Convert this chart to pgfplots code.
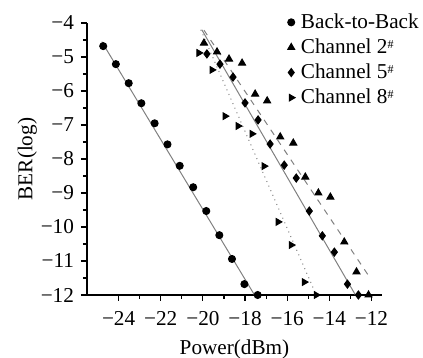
\documentclass[border=0pt]{standalone}
\usepackage{fontspec}
\setmainfont{Liberation Serif}
\usepackage{pgfplots}
\pgfplotsset{compat=1.18}
\newcommand{\fs}{\fontsize{10.6}{12}\selectfont}
\begin{document}
\begin{tikzpicture}
\begin{axis}[
  scale only axis, width=147.5pt, height=136pt,
  xmin=-25.5, xmax=-11.5, ymin=-12, ymax=-4,
  axis lines=left, axis line style={-, line width=0.7pt},
  tick align=outside,
  xtick={-24,-22,-20,-18,-16,-14,-12},
  xticklabels={−24,−22,−20,−18,−16,−14,−12},
  ytick={-12,-11,-10,-9,-8,-7,-6,-5,-4},
  yticklabels={−12,−11,−10,−9,−8,−7,−6,−5,−4},
  minor x tick num=1, minor y tick num=1,
  major tick length=3pt, minor tick length=2pt,
  tick style={black, line width=0.6pt},
  ticklabel style={font=\fs},
  xticklabel style={yshift=-1.5pt},
  xlabel={Power(dBm)}, ylabel={BER(log)},
  label style={font=\fs},
  xlabel style={yshift=-0.5pt},
  ylabel style={yshift=-5pt},
  clip=false,
  legend style={at={(axis description cs:0.64,1.06)}, anchor=north west,
    draw=none, fill=none, font=\fs, row sep=1.3pt,
    nodes={inner sep=1.2pt}},
  legend cell align=left,
  legend image code/.code={\path (0cm,0cm) (0.27cm,0cm); \draw[#1] plot coordinates {(0.15cm,0cm)};},
  every axis plot/.append style={line width=0.5pt},
]
% fitted lines
\addplot[gray, solid, forget plot] coordinates {(-24.8,-4.55) (-17.55,-12)};
\addplot[gray, dotted, forget plot] coordinates {(-20.1,-4.2) (-14.62,-12)};
\addplot[gray, solid, forget plot] coordinates {(-20.05,-4.2) (-12.76,-12)};
\addplot[gray, dashed, forget plot] coordinates {(-19.95,-4.21) (-12.16,-11.41)};
% Back-to-Back
\addplot[only marks, mark=*, mark size=1.75pt, black] coordinates {
(-24.73,-4.68) (-24.13,-5.21) (-23.52,-5.77) (-22.92,-6.36) (-22.29,-6.95)
(-21.68,-7.57) (-21.10,-8.20) (-20.46,-8.83) (-19.84,-9.53) (-19.22,-10.24)
(-18.62,-10.94) (-18.03,-11.68) (-17.40,-12.0)};
\addlegendentry{Back-to-Back}
% Channel 2
\addplot[only marks, mark=triangle*, mark size=2pt, black] coordinates {
(-19.95,-4.59) (-19.33,-4.85) (-18.76,-5.06) (-18.14,-5.18) (-17.52,-6.09)
(-16.95,-6.29) (-16.33,-7.35) (-15.71,-7.53) (-15.14,-8.53) (-14.52,-9.00)
(-13.95,-9.12) (-13.29,-10.44) (-12.71,-11.32) (-12.14,-12.0)};
\addlegendentry{Channel 2{\fontsize{6}{7}\selectfont\raisebox{0.9ex}{\#}}}
% Channel 5
\addplot[only marks, mark=diamond*, mark size=2pt, black] coordinates {
(-19.81,-4.91) (-19.19,-5.21) (-18.57,-5.59) (-18.00,-6.35) (-17.38,-6.85)
(-16.81,-7.56) (-16.14,-8.18) (-15.57,-8.56) (-14.95,-9.53) (-14.33,-10.26)
(-13.76,-10.74) (-13.14,-11.68) (-12.62,-12.0)};
\addlegendentry{Channel 5{\fontsize{6}{7}\selectfont\raisebox{0.9ex}{\#}}}
% Channel 8
\addplot[only marks, mark=triangle*, mark size=1.9pt, mark options={rotate=-90}, black] coordinates {
(-20.19,-4.88) (-19.57,-5.38) (-18.95,-6.74) (-18.33,-7.03) (-17.67,-7.26)
(-17.10,-8.21) (-16.43,-9.85) (-15.81,-10.53) (-15.19,-11.62) (-14.62,-12.0)};
\addlegendentry{Channel 8{\fontsize{6}{7}\selectfont\raisebox{0.9ex}{\#}}}
\end{axis}
\pgfresetboundingbox
\path ([xshift=-43.5pt,yshift=-31.5pt]current axis.south west) rectangle ([xshift=20.5pt,yshift=11.5pt]current axis.north east);
\end{tikzpicture}
\end{document}
